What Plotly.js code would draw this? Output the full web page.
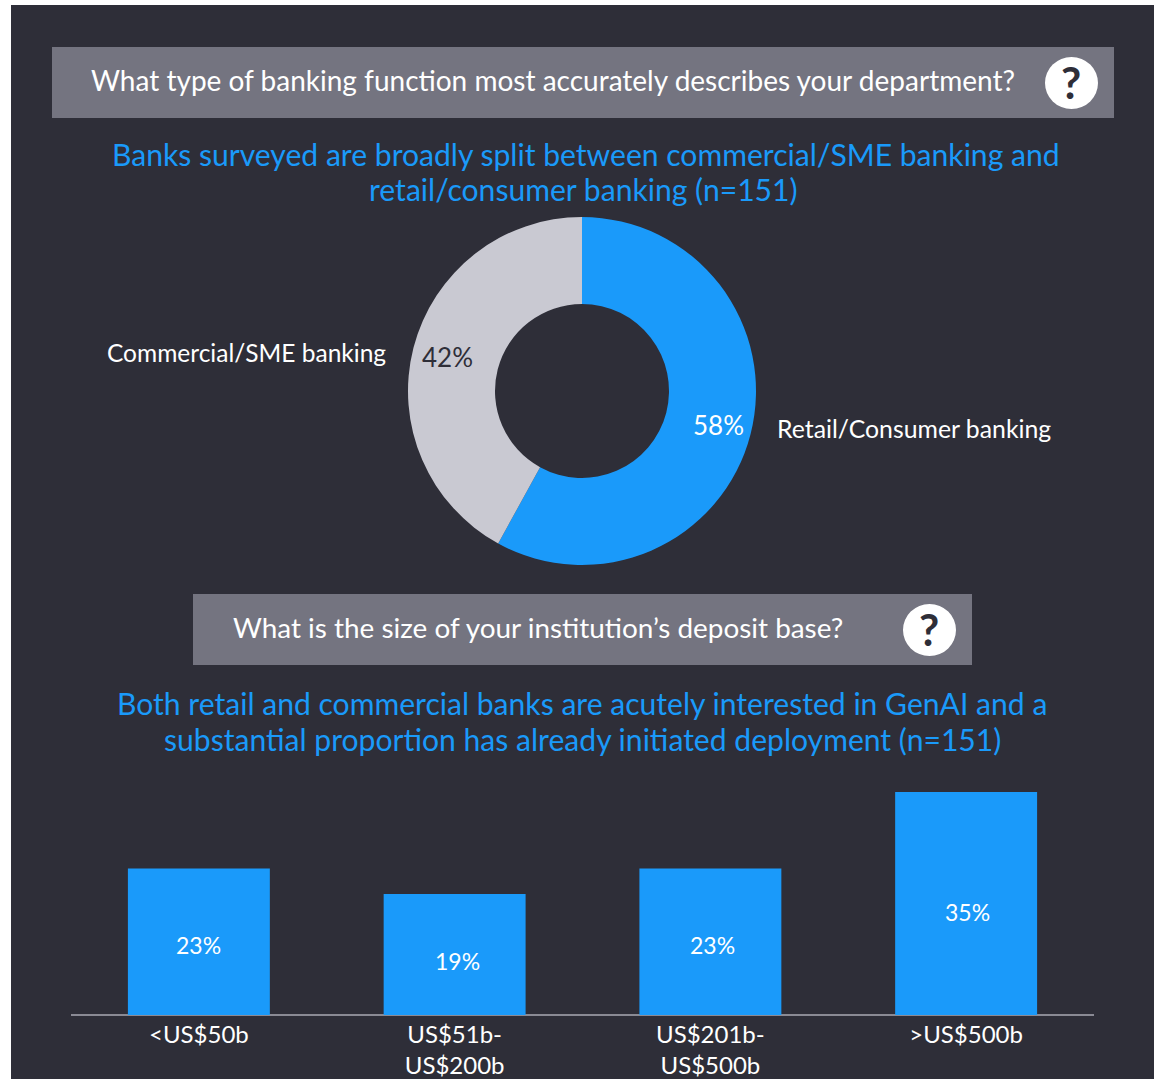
<!DOCTYPE html>
<html>
<head>
<meta charset="utf-8">
<script src="https://cdn.plot.ly/plotly-3.0.1.min.js"></script>
<style>html,body{margin:0;padding:0;background:#fff}#c{width:1165px;height:1079px}</style>
</head>
<body>
<div id="c"></div>
<script>
var sliceLabels = ['Retail/Consumer banking', 'Commercial/SME banking'];
var sliceValues = [58, 42];
var barCategories = ['<US$50b', 'US$51b-<br>US$200b', 'US$201b-<br>US$500b', '>US$500b'];
var barValues = [23, 19, 23, 35];

var W = 1165, H = 1079;
var FONT = 'Lato, sans-serif';
var DARK = '#2e2e38', GREY = '#747480', BLUE = '#1a9afa', LIGHT = '#c9c9d2';
function px(x){return x/W;}
function py(y){return 1-y/H;}
function note(t,x,y,size,color,anchor,weight){
  return {text:t,xref:'paper',yref:'paper',x:px(x),y:py(y),xanchor:anchor||'center',yanchor:'middle',
    showarrow:false,font:{family:FONT,size:size,color:color,weight:weight||400}};
}
var pie = {
  type:'pie', labels:sliceLabels, values:sliceValues, sort:false, direction:'clockwise', rotation:0,
  hole:0.5, domain:{x:[px(408),px(756)],y:[py(565),py(217)]},
  marker:{colors:[BLUE,LIGHT],line:{width:0}},
  textinfo:'none', showlegend:false
};
var bars = {
  type:'bar', x:barCategories, y:barValues, width:0.555,
  marker:{color:BLUE,line:{width:0}},
  hoverinfo:'x+y', showlegend:false
};
var barNoteY = [11, 8.5, 11, 16.2];
var barNoteShift = [0, 3, 2, 1];
var annotations = [
  note('What type of banking function most accurately describes your department?',89,80,28,'#ffffff','left'),
  note('Banks surveyed are broadly split between commercial/SME banking and',586,154,30.1,BLUE),
  note('retail/consumer banking (n=151)',583,189,30.1,BLUE),
  note('What is the size of your institution\u2019s deposit base?',231,627,27.9,'#ffffff','left'),
  note('Both retail and commercial banks are acutely interested in GenAI and a',582,703,30.1,BLUE),
  note('substantial proportion has already initiated deployment (n=151)',582,739,30.1,BLUE),
  note(sliceLabels[1],105,352,24.5,'#ffffff','left'),
  note(sliceLabels[0],775,428,24.8,'#ffffff','left'),
  note(sliceValues[0]+'%',718,425,26,'#ffffff'),
  note(sliceValues[1]+'%',447,357,26,DARK),
  note('?',1071,82,44,DARK,'center',700),
  note('?',929,629,44,DARK,'center',700)
];
barValues.forEach(function(v,i){
  annotations.push({text:v+'%',x:barCategories[i],y:barNoteY[i],xref:'x',yref:'y',xshift:barNoteShift[i],
    showarrow:false,font:{family:FONT,size:23,color:'#ffffff'}});
});
var rect=function(x0,y0,x1,y1,c,t){return {type:t||'rect',xref:'paper',yref:'paper',x0:px(x0),x1:px(x1),y0:py(y1),y1:py(y0),fillcolor:c,line:{width:0},layer:'below'};};
var layout = {
  width:W,height:H,margin:{l:0,r:0,t:0,b:0,pad:0},
  paper_bgcolor:'#ffffff',plot_bgcolor:'rgba(0,0,0,0)',
  font:{family:FONT,color:'#ffffff'},
  xaxis:{domain:[px(71),px(1094)],type:'category',categoryorder:'array',categoryarray:barCategories,range:[-0.5,3.5],
    showgrid:false,zeroline:false,showline:false,ticks:'',ticklabelstandoff:3,tickfont:{family:FONT,size:24,color:'#ffffff'},fixedrange:true},
  yaxis:{domain:[py(1015),py(780)],range:[0,36.88],showgrid:false,zeroline:true,zerolinecolor:'#8a8a94',zerolinewidth:1.5,
    showticklabels:false,ticks:'',fixedrange:true},
  shapes:[
    rect(11,5,1154,1079,DARK),
    rect(52,47,1114,118,GREY),
    rect(193,594,972,665,GREY),
    rect(1045,57,1098,109,'#ffffff','circle'),
    rect(903,604,956,656,'#ffffff','circle')
  ],
  annotations:annotations
};
Plotly.newPlot('c',[pie,bars],layout,{displayModeBar:false,staticPlot:true});
</script>
</body>
</html>
